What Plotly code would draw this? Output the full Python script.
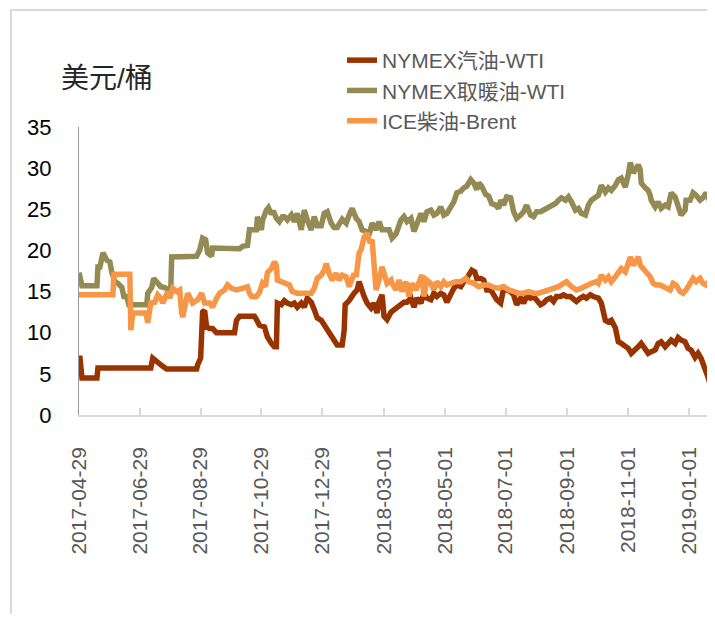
import pandas as pd
import plotly.graph_objects as go

START = "2017-04-29"

# NYMEX汽油-WTI : days since START, value (USD/bbl)
gas_day = [0, 1, 3, 18, 19, 72, 74, 78, 83, 88, 118, 119, 122, 124, 126, 128, 131, 134, 138, 156, 158, 161, 176, 178, 181, 186, 189, 193, 196, 198, 199, 203, 206, 209, 213, 216, 219, 223, 226, 229, 233, 236, 239, 243, 246, 249, 253, 256, 259, 264, 266, 267, 271, 276, 279, 281, 283, 286, 289, 293, 296, 299, 301, 304, 306, 309, 313, 316, 319, 323, 326, 329, 333, 336, 339, 343, 346, 349, 353, 356, 359, 363, 366, 369, 373, 376, 379, 383, 386, 389, 394, 397, 399, 403, 406, 409, 413, 416, 419, 423, 426, 429, 433, 436, 439, 443, 446, 449, 453, 456, 459, 463, 466, 469, 473, 476, 479, 483, 486, 489, 493, 496, 499, 503, 506, 509, 513, 516, 521, 524, 528, 531, 534, 538, 541, 544, 548, 551, 554, 558, 561, 564, 568, 571, 574, 578, 581, 584, 588, 591, 594, 598, 601, 604, 608, 611, 614, 618, 621, 624, 628, 631, 634, 637]
gas_val = [6.9, 6.9, 4.5, 4.5, 5.7, 5.7, 6.9, 6.4, 6.0, 5.6, 5.6, 6.1, 6.9, 12.5, 12.7, 10.7, 10.5, 10.5, 10.0, 10.0, 11.5, 12.0, 12.0, 11.6, 10.9, 10.7, 9.5, 8.7, 8.3, 8.3, 13.6, 13.4, 13.9, 13.6, 13.4, 13.6, 13.1, 13.6, 13.1, 14.2, 13.7, 12.8, 11.8, 11.5, 10.9, 10.3, 9.5, 8.9, 8.5, 8.5, 10.3, 13.4, 13.9, 14.8, 15.2, 16.2, 15.2, 14.4, 13.6, 13.0, 13.6, 12.4, 13.8, 14.6, 12.0, 11.6, 12.5, 12.8, 13.1, 13.6, 13.7, 13.7, 14.2, 13.1, 14.2, 13.6, 14.8, 14.2, 14.0, 14.8, 14.4, 14.8, 14.6, 13.7, 14.8, 15.4, 15.8, 15.6, 16.2, 16.6, 17.6, 17.4, 16.6, 16.6, 16.4, 15.2, 15.2, 14.4, 14.0, 13.6, 15.4, 15.2, 15.0, 14.6, 13.4, 14.2, 13.6, 14.4, 14.2, 14.4, 14.0, 13.4, 13.6, 14.0, 14.2, 13.8, 14.4, 14.4, 14.6, 14.4, 14.4, 14.0, 13.8, 14.2, 14.4, 14.2, 14.6, 14.4, 14.2, 13.6, 11.5, 11.3, 11.5, 10.6, 8.9, 8.7, 8.3, 8.1, 7.5, 8.1, 8.3, 8.7, 8.1, 7.5, 7.7, 7.9, 8.7, 8.9, 8.3, 8.7, 9.1, 8.7, 9.4, 9.1, 8.9, 8.1, 7.9, 7.0, 7.5, 6.9, 5.8, 4.6, 3.4, 3.0]

# NYMEX取暖油-WTI
heat_day = [0, 3, 18, 19, 21, 24, 28, 31, 33, 36, 39, 43, 45, 48, 50, 68, 69, 73, 75, 79, 82, 86, 89, 92, 93, 118, 121, 124, 127, 129, 133, 134, 161, 164, 169, 171, 178, 179, 183, 184, 188, 190, 193, 195, 198, 201, 204, 206, 209, 213, 216, 219, 223, 226, 229, 233, 236, 239, 243, 246, 249, 253, 256, 259, 264, 268, 271, 274, 278, 281, 284, 288, 291, 294, 298, 301, 304, 308, 311, 314, 318, 323, 326, 329, 333, 336, 339, 343, 346, 349, 353, 356, 359, 363, 366, 369, 373, 376, 379, 383, 386, 389, 393, 396, 399, 401, 404, 408, 411, 414, 418, 421, 423, 426, 429, 433, 436, 439, 443, 446, 449, 453, 456, 459, 463, 466, 469, 471, 478, 481, 484, 488, 491, 494, 498, 501, 504, 508, 511, 514, 518, 521, 524, 528, 531, 534, 538, 541, 544, 548, 551, 553, 556, 558, 561, 563, 564, 568, 571, 573, 574, 578, 581, 584, 588, 591, 594, 598, 601, 604, 608, 609, 613, 616, 619, 623, 626, 629, 633, 637]
heat_val = [17.3, 15.7, 15.7, 18.0, 18.0, 19.7, 18.8, 18.6, 17.3, 16.2, 16.0, 15.5, 14.4, 14.4, 13.4, 13.4, 14.8, 15.5, 16.6, 16.0, 15.6, 15.5, 15.2, 15.0, 19.2, 19.3, 20.0, 21.5, 21.3, 19.7, 19.3, 20.3, 20.2, 20.5, 20.6, 22.5, 22.5, 24.1, 22.5, 23.6, 24.9, 25.2, 24.4, 24.8, 23.9, 23.5, 24.1, 24.1, 23.7, 24.3, 23.5, 24.5, 22.5, 24.9, 23.7, 22.5, 24.1, 23.0, 23.0, 24.5, 24.7, 23.3, 22.8, 22.8, 23.8, 23.3, 24.3, 25.1, 23.9, 23.5, 22.5, 22.3, 21.9, 23.3, 22.5, 23.5, 22.5, 22.5, 22.5, 21.5, 22.0, 23.7, 24.1, 23.5, 23.9, 22.3, 23.3, 24.5, 23.5, 24.7, 24.9, 24.3, 24.5, 25.3, 24.3, 24.5, 25.3, 25.9, 27.0, 27.2, 27.6, 27.8, 28.6, 28.2, 27.4, 28.2, 27.8, 26.8, 26.6, 25.7, 25.5, 25.1, 26.1, 25.5, 26.5, 26.4, 24.7, 23.9, 24.3, 24.7, 25.5, 24.3, 24.1, 24.7, 24.7, 24.9, 25.1, 25.3, 25.7, 26.1, 26.4, 26.1, 26.5, 25.9, 24.9, 25.1, 24.5, 24.3, 25.5, 26.1, 26.5, 26.7, 27.9, 27.1, 27.6, 27.3, 27.9, 28.6, 28.8, 27.7, 29.2, 30.7, 29.4, 29.8, 30.4, 29.8, 28.2, 27.6, 27.3, 26.7, 26.1, 25.3, 25.9, 25.1, 25.5, 25.3, 27.0, 26.5, 25.5, 24.3, 24.9, 26.1, 26.1, 27.0, 26.7, 26.1, 26.4, 27.0, 25.9, 25.3]

# ICE柴油-Brent
ice_day = [0, 34, 35, 51, 52, 54, 67, 69, 72, 76, 79, 82, 84, 86, 89, 91, 94, 98, 101, 103, 104, 106, 109, 114, 119, 123, 126, 131, 134, 138, 141, 146, 149, 153, 158, 164, 169, 171, 173, 178, 181, 184, 187, 189, 193, 196, 198, 199, 203, 208, 211, 214, 219, 233, 236, 239, 243, 246, 248, 251, 254, 258, 261, 264, 268, 271, 276, 278, 281, 283, 286, 289, 292, 294, 296, 298, 301, 304, 306, 309, 313, 314, 318, 321, 324, 328, 331, 334, 338, 341, 344, 346, 349, 353, 356, 359, 363, 366, 369, 373, 378, 383, 388, 391, 396, 401, 406, 411, 416, 421, 426, 431, 436, 441, 446, 451, 456, 461, 466, 471, 476, 481, 486, 489, 494, 499, 504, 509, 514, 519, 521, 524, 528, 531, 534, 538, 541, 544, 548, 551, 553, 556, 558, 561, 563, 566, 569, 573, 576, 579, 583, 586, 589, 593, 596, 599, 603, 606, 609, 613, 616, 619, 623, 626, 629, 633, 637]
ice_val = [14.6, 14.6, 17.1, 17.1, 10.3, 12.4, 12.4, 11.2, 13.6, 13.7, 14.6, 14.2, 13.6, 14.3, 15.0, 14.2, 15.4, 15.0, 15.2, 12.4, 11.9, 13.1, 14.8, 13.6, 14.0, 14.8, 13.6, 13.6, 13.1, 14.2, 14.8, 15.2, 15.8, 15.4, 15.2, 15.4, 15.6, 14.8, 14.4, 14.4, 14.9, 16.0, 15.6, 17.3, 17.8, 18.6, 18.2, 16.4, 16.2, 16.0, 15.8, 15.0, 14.8, 14.8, 15.4, 16.6, 17.0, 17.6, 18.4, 17.2, 16.4, 17.2, 16.4, 17.0, 16.8, 15.6, 17.2, 16.8, 19.7, 20.1, 21.6, 22.1, 20.9, 21.3, 18.4, 15.2, 16.4, 18.0, 17.2, 16.0, 16.4, 16.0, 15.2, 16.4, 15.0, 16.2, 14.4, 16.0, 15.2, 16.0, 17.0, 14.4, 16.4, 16.0, 15.2, 16.2, 15.6, 16.2, 15.8, 16.0, 16.2, 16.2, 16.6, 16.2, 16.0, 15.6, 15.8, 15.8, 15.5, 15.4, 15.6, 15.2, 15.0, 14.8, 14.8, 15.0, 14.8, 14.8, 15.0, 15.2, 15.4, 15.6, 16.0, 16.2, 15.6, 15.2, 15.4, 15.8, 16.0, 16.2, 16.0, 17.0, 16.4, 16.8, 16.2, 16.8, 17.4, 17.8, 17.4, 18.4, 19.2, 18.2, 18.6, 19.2, 18.2, 17.8, 17.3, 16.8, 16.0, 15.8, 15.8, 15.6, 15.4, 15.2, 16.0, 15.8, 15.0, 14.8, 15.2, 16.2, 16.6, 16.2, 16.6, 16.0, 15.8, 16.4, 16.8]

series_names = ["NYMEX汽油-WTI", "NYMEX取暖油-WTI", "ICE柴油-Brent"]
series_colors = ["#993300", "#948A54", "#F79646"]

tick_labels = ["2017-04-29", "2017-06-29", "2017-08-29", "2017-10-29", "2017-12-29",
               "2018-03-01", "2018-05-01", "2018-07-01", "2018-09-01", "2018-11-01", "2019-01-01"]
y_ticks = [0, 5, 10, 15, 20, 25, 30, 35]
unit_label = "美元/桶"


def to_dates(days):
    return pd.Timestamp(START) + pd.to_timedelta(days, unit="D")


FONT = "Liberation Sans, Noto Sans CJK SC, sans-serif"

fig = go.Figure()
for i, (d, v) in enumerate([(gas_day, gas_val), (heat_day, heat_val), (ice_day, ice_val)]):
    fig.add_trace(go.Scatter(
        x=to_dates(d), y=v, mode="lines", name=series_names[i],
        line=dict(color=series_colors[i], width=5.5),
        legendgroup=f"g{i}",
    ))

x_end = pd.Timestamp(START) + pd.Timedelta(days=638)

# page body has an 8px margin: size the figure so the page does not scroll
fig.update_layout(
    width=707, height=606,
    margin=dict(l=71, r=0, t=119, b=199, autoexpand=False),
    paper_bgcolor="white", plot_bgcolor="white",
    font=dict(family=FONT),
    showlegend=True,
    legend=dict(
        x=(342 - 79) / 636, y=(415 - 40) / 288,
        xanchor="left", yanchor="top",
        font=dict(size=21, color="#595959", family=FONT),
        tracegroupgap=0, bgcolor="rgba(0,0,0,0)",
    ),
    xaxis=dict(
        range=[pd.Timestamp(START), x_end], automargin=False,
        tickvals=pd.to_datetime(tick_labels), ticktext=tick_labels,
        tickangle=-90, showgrid=False, zeroline=False,
        showline=True, linecolor="#D9D9D9", linewidth=1.5,
        ticks="inside", ticklen=7, tickcolor="#D9D9D9", tickwidth=1.5,
        ticklabelstandoff=22,
        tickfont=dict(size=21, color="#595959", family=FONT),
    ),
    yaxis=dict(
        range=[0, 35], tickvals=y_ticks, showgrid=False, zeroline=False, automargin=False,
        showline=True, linecolor="#999999", linewidth=1.2, ticks="",
        ticklabelstandoff=22,
        tickfont=dict(size=22, color="#000000", family=FONT),
    ),
    shapes=[dict(type="rect", xref="paper", yref="paper",
                 x0=(11 - 79) / 636, x1=1.2, y0=-0.8, y1=(415 - 10) / 288,
                 line=dict(color="#D9D9D9", width=2), fillcolor="rgba(0,0,0,0)", layer="below")],
    annotations=[dict(text=unit_label, xref="paper", yref="paper",
                      x=(59 - 79) / 636, y=(415 - 79) / 288, xanchor="left", yanchor="middle",
                      showarrow=False, font=dict(size=28, color="#262626", family=FONT))],
)

fig.write_html("out.html")
